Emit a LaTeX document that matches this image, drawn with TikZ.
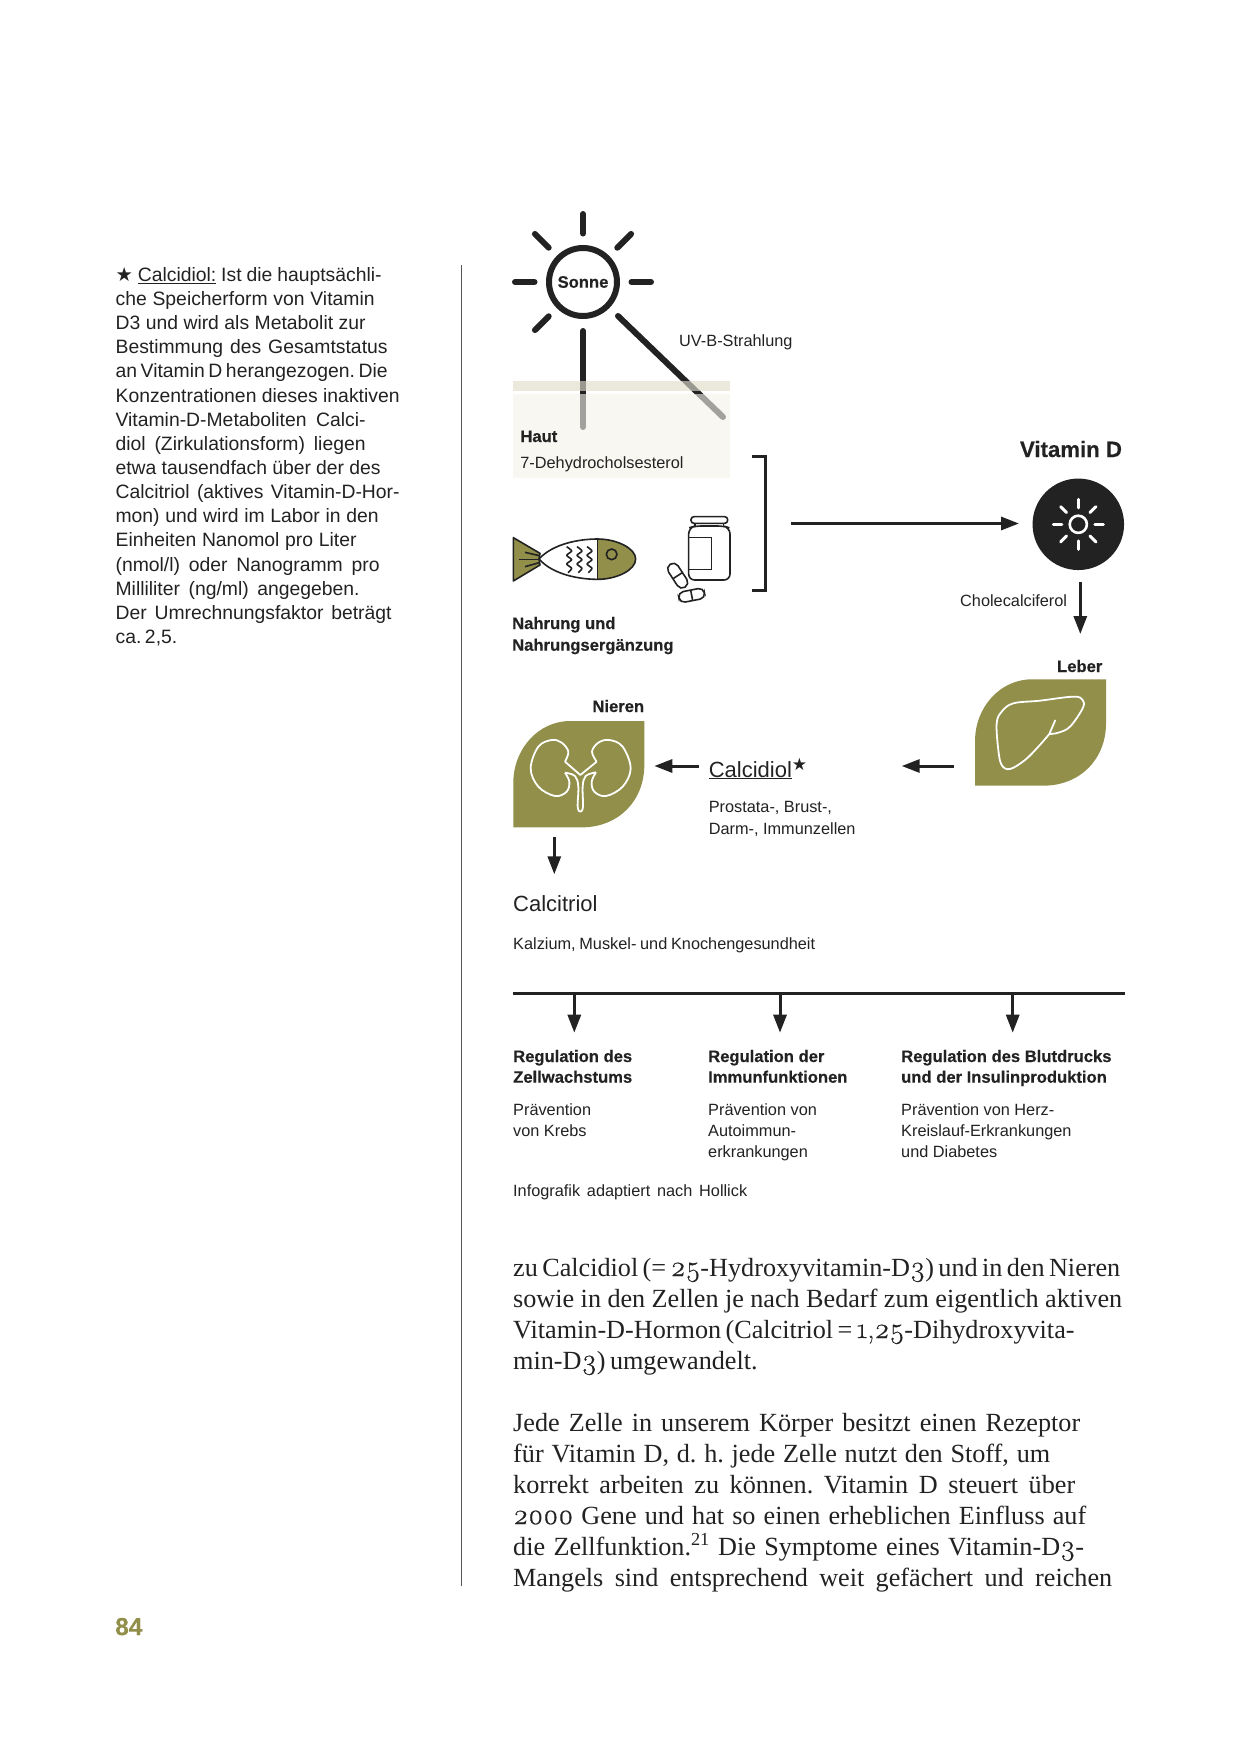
\documentclass[tikz,border=0pt]{standalone}
\usepackage{fontspec}
\setmainfont[BoldFeatures={FakeBold=.35}]{Liberation Sans}
\newfontfamily\serifbody{Liberation Serif}
\newfontfamily\oldnum[Numbers=OldStyle,Scale=1.1,FakeBold=.5]{Latin Modern Roman}
\newfontfamily\symfont{DejaVu Sans}
\usepackage{xcolor}
\usetikzlibrary{arrows.meta,calc}
\tikzset{>={Triangle[length=18pt,width=13pt]}}
\definecolor{Ink}{HTML}{222222}
\definecolor{Olive}{HTML}{918F4A}
\definecolor{SkinBand}{HTML}{EBE9DC}
\definecolor{SkinBg}{HTML}{F8F7F2}
\definecolor{RuleGrey}{HTML}{555555}
\newcommand{\sidefont}{\fontsize{19.35}{24}\selectfont\frenchspacing}
\newcommand{\smallfont}{\fontsize{16.3}{20}\selectfont\frenchspacing}
\newcommand{\boldfont}{\fontsize{16.6}{20}\selectfont\bfseries}
\newcommand{\namefont}{\fontsize{22}{26}\selectfont}
\newcommand{\bodyfont}{\fontsize{26.2}{31}\selectfont\serifbody\frenchspacing}
\newcommand{\drawleaf}[1]{\fill[Olive,shift={(#1)}] (131,0) -- (131,44) .. controls (131,80) and (105,106.4) .. (68,106.4) -- (0,106.4) -- (0,62) .. controls (0,28) and (25,0) .. (57,0) -- cycle;}
\tikzset{
  txt/.style={anchor=base west,inner sep=0pt,text=Ink},
  flow/.style={->,draw=Ink,line width=3pt},
  ray/.style={draw=Ink,line width=6pt,line cap=round},
  icon/.style={draw=Ink,line width=1.6pt},
  outline/.style={draw=white,line width=1.8pt,line join=round}
}

\begin{document}
\begin{tikzpicture}[x=1pt,y=-1pt]
  \useasboundingbox (0,0) rectangle (1240,1753);
  \fill[white] (0,0) rectangle (1240,1753);

  % Randspalte
  \foreach \w/\txt [count=\n] in {
    266/{{\symfont★} \underline{Calcidiol:} Ist die hauptsächli-},
    259/{che Speicherform von Vitamin},
    250/{D3 und wird als Metabolit zur},
    272/{Bestimmung des Gesamtstatus},
    272/{an Vitamin D herangezogen. Die},
    284/{Konzentrationen dieses inaktiven},
    250/{Vitamin-D-Metaboliten Calci-},
    250/{diol (Zirkulationsform) liegen},
    265/{etwa tausendfach über der des},
    284/{Calcitriol (aktives Vitamin-D-Hor-},
    263/{mon) und wird im Labor in den},
    241/{Einheiten Nanomol pro Liter},
    264/{(nmol/l) oder Nanogramm pro},
    244/{Milliliter (ng/ml) angegeben.},
    276/{Der Umrechnungsfaktor beträgt},
    61/{ca. 2,5.}}{
    \node[txt,font=\sidefont] (side\n) at (115.4,{281.2+24.16*(\n-1)}) {\hbox to \w pt{\txt}};
  }
  \coordinate (ruletop) at (461.3,265);
  \coordinate (rulebottom) at (461.3,1585.7);
  \draw[RuleGrey,line width=1.3pt] (ruletop) -- (rulebottom);
  \node[txt,text=Olive,font=\fontsize{24.5}{28}\selectfont\bfseries] (pagenum) at (115,1635) {84};

  % Haut und Sonne
  \fill[SkinBand] (513,381) rectangle (730,391);
  \fill[SkinBg] (513,394) rectangle (730,478);
  \node[circle,draw=Ink,line width=6pt,minimum size=68pt,inner sep=0pt,font=\boldfont,text=Ink] (sonne) at (583,282) {\raisebox{-1pt}{Sonne}};
  \foreach \a in {0,45,...,315}{
    \ifnum\a=90\else\ifnum\a=45\else
      \draw[ray] ($(sonne.center)+(\a:48.5)$) -- ($(sonne.center)+(\a:68)$);
    \fi\fi
  }
  \coordinate (uvstart) at (618,316);
  \coordinate (uvend) at (723,417);
  \coordinate (downstart) at (583,331);
  \coordinate (downend) at (583,427);
  \draw[ray] (downstart) -- (downend);
  \draw[ray] (uvstart) -- (uvend);
  \fill[SkinBand,opacity=.6] (513,381) rectangle (730,391);
  \fill[SkinBg,opacity=.6] (513,394) rectangle (730,478);
  \node[txt,font=\smallfont] (uvb) at (679,346.5) {UV-B-Strahlung};
  \node[txt,font=\boldfont] (haut) at (520.2,442) {Haut};
  \node[txt,font=\smallfont] (dehydro) at (520.2,468.5) {7-Dehydrocholsesterol};

  % Fisch
  \begin{scope}[shift={(490,490)},scale=1/3]
    \fill[Olive] (70,143) -- (150,190) -- (147,207) -- (150,225) -- (70,273) -- cycle;
    \fill[Olive] (323,147) .. controls (380,147) and (437,175) .. (437,207) .. controls (437,240) and (380,268) .. (323,268) -- cycle;
    \draw[icon,line join=round] (70,143) -- (150,190) -- (147,207) -- (150,225) -- (70,273) -- cycle;
    \draw[icon] (147,207) .. controls (190,160) and (270,147) .. (323,147) .. controls (380,147) and (437,175) .. (437,207) .. controls (437,240) and (380,268) .. (323,268) .. controls (270,268) and (190,255) .. (147,207);
    \draw[icon] (323,147) -- (323,268);
    \draw[icon] (365,193) circle (16);
    \draw[icon] (105,187) -- (148,197);
    \draw[icon] (87,208) -- (148,208);
    \draw[icon] (105,230) -- (148,218);
    \foreach \x in {237,268,298}{
      \draw[icon,line join=round] plot[smooth,tension=.4] coordinates {(\x-7,170) (\x+8,183) (\x-7,196) (\x+8,209) (\x-7,222) (\x+8,235) (\x-3,248)};
    }
    % Dose und Kapseln
    \draw[icon,rounded corners=3pt] (603,80) rectangle (713,100);
    \draw[icon] (615,100) -- (615,108);
    \draw[icon] (701,100) -- (701,108);
    \draw[icon,rounded corners=6pt] (615,108) -- (596,114) -- (596,270) -- (720,270) -- (720,114) -- (701,108) -- cycle;
    \draw[icon] (596,142) -- (665,142) -- (665,238) -- (596,238);
    \draw[icon,rounded corners=5.6pt,shift={(563,257)},rotate=-57] (-41,-17) rectangle (41,17);
    \draw[icon,shift={(563,257)},rotate=-57] (0,-17) -- (0,17);
    \draw[icon,rounded corners=5.4pt,shift={(605,316)},rotate=11] (-39,-16) rectangle (39,16);
    \draw[icon,shift={(605,316)},rotate=11] (0,-16) -- (0,16);
  \end{scope}
  \node[txt,font=\boldfont] (nahrung) at (512,629) {Nahrung und};
  \node[txt,font=\boldfont] (ergaenzung) at (512,650.7) {Nahrungsergänzung};
  \coordinate (brackettop) at (752,456.5);
  \coordinate (bracketbottom) at (752,590);
  \draw[Ink,line width=3pt] (brackettop) -- (765,456.5) -- (765,590) -- (bracketbottom);

  % Vitamin D
  \node[txt,font=\fontsize{22.2}{26}\selectfont\bfseries] (vitamintitle) at (1019.8,457) {Vitamin D};
  \node[circle,fill=Ink,minimum size=91.5pt,inner sep=0pt] (vitamin) at (1078.3,524.3) {};
  \draw[white,line width=2.6pt] (vitamin.center) circle (8.6);
  \foreach \a in {0,45,...,315}{
    \draw[white,line width=3pt,line cap=round] ($(vitamin.center)+(\a:16.5)$) -- ($(vitamin.center)+(\a:25)$);
  }
  \coordinate (foodout) at (791,523.5);
  \coordinate (vitaminin) at (1019,523.5);
  \draw[flow] (foodout) -- (vitaminin);
  \node[txt,font=\smallfont] (chole) at (960,606.5) {Cholecalciferol};
  \coordinate (vitaminout) at (1080.3,582.3);
  \coordinate (leberin) at (1080.3,634);
  \draw[flow] (vitaminout) -- (leberin);

  % Leber
  \node[txt,anchor=base east,font=\boldfont] (lebertitle) at (1102.5,672) {Leber};
  \drawleaf{975,679.3}
  \begin{scope}[shift={(780,430)},scale=1/3]
    \draw[outline] plot[smooth,tension=.6] coordinates {(808,912) (775,950) (735,990) (690,1017) (665,1005) (655,960) (650,880) (665,845) (700,820) (780,812) (880,800) (908,810) (908,835) (870,890) (835,908) (808,912)};
    \draw[outline] (808,912) -- (826,870);
  \end{scope}
  \coordinate (leberout) at (954,766);
  \coordinate (calcidiolright) at (901.7,766);
  \draw[flow] (leberout) -- (calcidiolright);

  % Calcidiol und Nieren
  \node[txt,font=\namefont] (calcidiol) at (708.6,777) {\underline{Calcidiol}\raisebox{7pt}{\fontsize{17}{17}\selectfont\symfont ★}};
  \node[txt,font=\smallfont] (prostata) at (708.6,812) {Prostata-, Brust-,};
  \node[txt,font=\smallfont] (darm) at (708.6,834) {Darm-, Immunzellen};
  \node[txt,anchor=base east,font=\boldfont] (nierentitle) at (644.3,712) {Nieren};
  \drawleaf{513.3,721}
  \begin{scope}[shift={(500,690)},scale=1/3]
    \draw[outline] plot[smooth,tension=.6] coordinates {(195,215) (205,185) (185,158) (155,150) (115,170) (92,235) (115,290) (165,318) (200,305) (208,275) (195,248)};
    \draw[outline] plot[smooth,tension=.6] coordinates {(195,248) (225,258) (235,290) (233,350) (241,365) (249,350) (248,290) (257,258) (288,247)};
    \draw[outline] plot[smooth,tension=.6] coordinates {(288,247) (275,275) (283,305) (318,318) (368,290) (392,235) (368,170) (328,150) (295,158) (276,185) (290,215)};
    \draw[outline] (195,215) -- (241,255) -- (290,215);
  \end{scope}
  \coordinate (calcidiolleft) at (699,766);
  \coordinate (nierenin) at (654.3,766);
  \draw[flow] (calcidiolleft) -- (nierenin);
  \coordinate (nierenout) at (554.3,837);
  \coordinate (calcitriolin) at (554.3,874.3);
  \draw[flow] (nierenout) -- (calcitriolin);
  \node[txt,font=\namefont] (calcitriol) at (513,911) {Calcitriol};
  \node[txt,font=\smallfont] (kalzium) at (513,949.3) {\hbox to 302pt{Kalzium, Muskel- und Knochengesundheit}};

  % Verzweigung
  \coordinate (branchleft) at (513.3,993.3);
  \coordinate (branchright) at (1124.5,993.3);
  \draw[Ink,line width=3pt] (branchleft) -- (branchright);
  \foreach \x/\col/\titlea/\titleb/\texta/\textb/\textc [count=\n] in {
    574.3/513/{Regulation des}/{Zellwachstums}/{Prävention}/{von Krebs}/{},
    780/708/{Regulation der}/{Immunfunktionen}/{Prävention von}/{Autoimmun-}/{erkrankungen},
    1012.7/901/{Regulation des Blutdrucks}/{und der Insulinproduktion}/{Prävention von Herz-}/{Kreislauf-Erkrankungen}/{und Diabetes}}{
    \coordinate (from\n) at (\x,993.3);
    \coordinate (to\n) at (\x,1032.7);
    \draw[flow] (from\n) -- (to\n);
    \node[txt,font=\boldfont] (heada\n) at (\col,1062) {\titlea};
    \node[txt,font=\boldfont] (headb\n) at (\col,1082.7) {\titleb};
    \node[txt,font=\smallfont] (linea\n) at (\col,1115) {\texta};
    \node[txt,font=\smallfont] (lineb\n) at (\col,1136) {\textb};
    \node[txt,font=\smallfont] (linec\n) at (\col,1157.6) {\textc};
  }
  \node[txt,font=\smallfont] (credit) at (513,1196) {\hbox to 234pt{Infografik adaptiert nach Hollick}};

  % Fliesstext
  \foreach \y/\w/\txt [count=\n] in {
    1276/607/{zu Calcidiol (= {\oldnum 25}-Hydroxyvitamin-D{\oldnum 3}) und in den Nieren},
    1307/609/{sowie in den Zellen je nach Bedarf zum eigentlich aktiven},
    1338/556/{Vitamin-D-Hormon (Calcitriol = {\oldnum 1,25}-Dihydroxyvita-},
    1369/242/{min-D{\oldnum 3}) umgewandelt.},
    1431/567/{Jede Zelle in unserem Körper besitzt einen Rezeptor},
    1462/537/{für Vitamin D, d. h. jede Zelle nutzt den Stoff, um},
    1493/562/{korrekt arbeiten zu können. Vitamin D steuert über},
    1524/573/{{\oldnum 2000} Gene und hat so einen erheblichen Einfluss auf},
    1555/571/{die Zellfunktion.\textsuperscript{21} Die Symptome eines Vitamin-D{\oldnum 3}-},
    1586/599/{Mangels sind entsprechend weit gefächert und reichen}}{
    \node[txt,font=\bodyfont] (body\n) at (513,\y) {\hbox to \w pt{\txt}};
  }
\end{tikzpicture}
\end{document}
